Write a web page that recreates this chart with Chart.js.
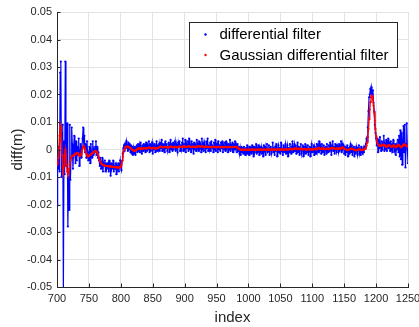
<!DOCTYPE html>
<html>
<head>
<meta charset="utf-8">
<script src="https://cdn.jsdelivr.net/npm/chart.js@4/dist/chart.umd.min.js"></script>
<style>
  html, body { margin: 0; padding: 0; background: #ffffff; }
  #wrap { width: 419px; height: 327px; position: relative; }
</style>
</head>
<body>
<div id="wrap"><canvas id="c" width="419" height="327"></canvas></div>
<script>
// x axis: sample index, first sample 700, one value per index up to 1250
const firstIndex = 700;
const seriesNames = ['differential filter', 'Gaussian differential filter'];
const xTickValues = [700, 750, 800, 850, 900, 950, 1000, 1050, 1100, 1150, 1200, 1250];
const yTickValues = [-0.05, -0.04, -0.03, -0.02, -0.01, 0, 0.01, 0.02, 0.03, 0.04, 0.05];

// values, in millimetres (axis shows metres)
const diffFilterMm = [
  /*700*/ -20.5, -3, -7, 1, -8, 28, 32, -10, 6, 9, -52, 3, -9, 32, -6, 4, 9.5, -28, -10, -22,
  /*720*/ 9, -11, -3, 8, 2, -7, 0, 5, -2, -5, 3, -4, 1, -2, 4, -6, -1, 2, -3, 1,
  /*740*/ 4, 8, 1, 5, -1, 2, -3, 3, -2, -4, -1, 1, -5, 2, -1, -3, 3, -2, 0, -1,
  /*760*/ 1, 3, -2, 1, -3, -1, -4, -6, -3, -7, -5, -3, -8, -5, -6, -4, -8, -5, -7, -6,
  /*780*/ -5, -8, -4, -6, -9.5, -5, -7, -6, -4, -8, -6, -7, -5, -9, -6, -7, -5, -8, -6, -4,
  /*800*/ -6.5, -7.5, -4, -1.5, 0.5, 1.5, -0.5, 2, 0.5, 3, 1.5, -0.5, 2.5, 0, 2, -1, 1.5, -1.5, 1, -2,
  /*820*/ 0.5, -1.5, 1, -2, 0.5, 1.5, -1, 2, -0.5, 1.5, -1, 2.5, 0, -1.5, 1.5, -0.5, 2, 0, 1.5, -1,
  /*840*/ 2.5, -0.5, 1.5, 0, 3, -1, 2, -0.5, 1, 2.5, -1.5, 1.5, 0, 2, -1, 1, 3, -0.5, 1.5, 0,
  /*860*/ 2, -0.5, 2.5, 0.5, 3.5, -0.5, 2, 0, 1.5, -1, 3, 0.5, 2, -0.5, 1, 2.5, -1, 1.5, 3.5, 0,
  /*880*/ 2, -0.5, 2.5, 0, 1.5, 3, -0.5, 2, 0.5, -1, 2.5, 1, 3, -0.5, 1.5, 0, 2.5, 4, -0.5, 2,
  /*900*/ 0.5, 3.5, -1, 2, 0.5, 3, -0.5, 4, 0, 1.5, -1, 3, 0.5, 2, -1.5, 2.5, 0, 1.5, -0.5, 3.5,
  /*920*/ 0.5, 2, -0.5, 3, 0.5, 1.5, -1, 4, 0, 2, -0.5, 2.5, 1, -1, 3, 0.5, 4, -0.5, 1.5, 0,
  /*940*/ 2.5, -0.5, 3, 0.5, 1.5, -1, 2.5, 0, 3.5, -0.5, 1, 2, -1, 3, 0, 1.5, -0.5, 2.5, 0.5, 3,
  /*960*/ -1, 1.5, 0, 2.5, -0.5, 3, 0.5, 1.5, -1, 2, 0, 3.5, -0.5, 1.5, 0.5, 2.5, -1, 2, 0, 3,
  /*980*/ 0.5, 1.5, -1, 2, -0.5, 1, -1.5, 0.5, -2, 1, -1, 0.5, -1.5, 1, -0.5, -2, 0.5, -1, 1.5, -1.5,
  /*1000*/ 0, -2, 1, -1, 0.5, -1.5, 1.5, -0.5, -2.5, 1, -1, 0, 2, -1.5, 0.5, -1, 1.5, -2, 0.5, -0.5,
  /*1020*/ 1, -1.5, 0.5, -2.5, 1.5, -0.5, 1, -2, 0, 2, -1, -0.5, 1.5, -2, 0.5, 1, -1.5, 0, 2.5, -1,
  /*1040*/ 0.5, -2, 1, -0.5, 2, -2.5, 0, 1.5, -1, 0.5, -1.5, 2.5, -0.5, 0, -2, 1.5, -1, 0.5, 2, -1.5,
  /*1060*/ 0, 1.5, -2.5, 0.5, -1, 2, 0, -1.5, 1, 3, -1, 0.5, 2, -0.5, 1.5, -1.5, 0, 2.5, -1, 1,
  /*1080*/ -2, 0.5, 2, -1.5, 0, 1.5, -2.5, 1, -0.5, 2, -1.5, 0.5, -1, 1.5, -2, 0, 1, -2.5, 0.5, 2,
  /*1100*/ -1, -0.5, 1.5, -2, 1, 0, -1.5, 2, -0.5, 1.5, -1, 3, 0, 1, -1.5, 2, 0.5, -1, 1.5, -2,
  /*1120*/ 0.5, 1, -1.5, 2, 0, -1, 1.5, -0.5, 2.5, 0, -2, 1.5, 3, -0.5, 1, -1.5, 2, 0, -1, 1.5,
  /*1140*/ 0.5, -1, 2, -0.5, 1, 3, -1, 2, 0.5, 1.5, -1.5, 1, -2, 0.5, -1, 1.5, -2.5, 0.5, -1.5, 1,
  /*1160*/ 2, -1, 1.5, -2, 0.5, 1, -2.5, 0, -1.5, 1, -0.5, -2, 0.5, 1.5, -1.5, 0, -2, 1, -1, -1.5,
  /*1180*/ 0.5, -1, 1, 0.5, 2, 4, 3, 8, 14, 19, 20, 22, 20.5, 22.5, 20, 21.5, 17, 14, 9, 6,
  /*1200*/ 4, 1.5, 4, -1, 3.5, 0.5, 4.5, 1, -0.5, 3, 0, 2.5, 5, -0.5, 2, 0, 3.5, -0.5, 1.5, 4,
  /*1220*/ 0.5, 2.5, -0.5, 3, 0, 1.5, -1, 3.5, 1, -0.5, 2, -2, 1.5, 0, 3.5, -1, 5, -2.5, 7, -3.5,
  /*1240*/ 6, -5.5, 3, 8.5, -1, 9, -6.5, 2, 9.5, 0, -5
];

const gaussDiffFilterMm = [
  /*700*/ -5.6, -5, -3, 0.5, 5, 8.8, 7.5, 3, -2, -6.5, -8.5, -6, -2, 0, -2, -5.5, -8, -9, -8.5, -7,
  /*720*/ -5.5, -4, -3, -2.5, -2.3, -2.2, -2.2, -2, -1.8, -1.6, -1.5, -1.3, -1.2, -1.4, -1.8, -2.2, -2.4, -2.2, -1.5, -0.6,
  /*740*/ 0.3, 1, 1.2, 0.8, 0, -0.8, -1.5, -2, -2.3, -2.5, -2.4, -2.2, -2, -1.8, -1.6, -1.4, -1.2, -1, -0.8, -0.7,
  /*760*/ -0.6, -0.6, -0.8, -1.2, -1.8, -2.6, -3.4, -4, -4.5, -4.9, -5.2, -5.4, -5.6, -5.7, -5.8, -5.9, -5.9, -6, -6, -6,
  /*780*/ -6, -6.1, -6.1, -6.1, -6.2, -6.2, -6.2, -6.3, -6.3, -6.3, -6.4, -6.4, -6.4, -6.5, -6.5, -6.5, -6.5, -6.6, -6.5, -6.4,
  /*800*/ -6.2, -5.5, -4.2, -2.6, -1.2, -0.2, 0.4, 0.8, 1, 1.1, 1.1, 1.1, 1, 0.9, 0.7, 0.5, 0.3, 0.1, -0.1, -0.3,
  /*820*/ -0.4, -0.5, -0.5, -0.4, -0.2, 0, 0.2, 0.3, 0.4, 0.4, 0.4, 0.3, 0.2, 0.2, 0.3, 0.4, 0.5, 0.5, 0.5, 0.4,
  /*840*/ 0.4, 0.4, 0.5, 0.6, 0.7, 0.7, 0.6, 0.5, 0.4, 0.4, 0.5, 0.6, 0.6, 0.5, 0.4, 0.3, 0.4, 0.5, 0.6, 0.7,
  /*860*/ 0.8, 0.9, 1, 1.1, 1, 0.9, 0.8, 0.8, 0.9, 1, 1, 0.9, 0.8, 0.7, 0.7, 0.8, 0.9, 1, 1.1, 1.1,
  /*880*/ 1, 0.9, 0.8, 0.8, 0.9, 1, 1, 0.9, 0.8, 0.8, 0.9, 1, 1.1, 1.1, 1, 0.9, 0.9, 1, 1.1, 1.2,
  /*900*/ 1.1, 1, 0.9, 0.9, 1, 1.1, 1.2, 1.2, 1.1, 1, 0.9, 0.9, 1, 1.1, 1.1, 1, 0.9, 0.8, 0.9, 1,
  /*920*/ 1.1, 1.2, 1.2, 1.1, 1, 1, 1.1, 1.2, 1.1, 1, 0.9, 0.9, 1, 1.1, 1.1, 1, 0.9, 0.9, 1, 1,
  /*940*/ 0.9, 0.8, 0.8, 0.9, 1, 1.1, 1.1, 1, 0.9, 0.8, 0.8, 0.9, 1, 1, 0.9, 0.8, 0.8, 0.9, 1, 1,
  /*960*/ 0.9, 0.8, 0.8, 0.9, 1, 1, 0.9, 0.8, 0.8, 0.9, 1, 1, 0.9, 0.8, 0.9, 1, 1, 0.9, 0.9, 1,
  /*980*/ 1, 0.9, 0.8, 0.7, 0.5, 0.3, 0.1, 0, -0.1, -0.1, 0, 0, -0.1, -0.2, -0.2, -0.1, 0, 0, -0.1, -0.1,
  /*1000*/ 0, 0, -0.1, -0.2, -0.1, 0, 0.1, 0, -0.1, -0.1, 0, 0, -0.1, -0.1, 0, 0.1, 0.1, 0, -0.1, 0,
  /*1020*/ 0, -0.1, -0.2, -0.1, 0, 0, -0.1, 0, 0.1, 0, -0.1, -0.1, 0, 0.1, 0, -0.1, -0.1, 0, 0, 0.1,
  /*1040*/ 0, -0.1, 0, 0, -0.1, -0.1, 0, 0.1, 0.1, 0, -0.1, 0, 0, 0.1, 0, -0.1, -0.1, 0, 0.1, 0.1,
  /*1060*/ 0, 0, -0.1, 0, 0.1, 0.2, 0.2, 0.1, 0, 0, 0.1, 0.2, 0.3, 0.4, 0.4, 0.3, 0.2, 0.1, 0.1, 0.2,
  /*1080*/ 0.3, 0.3, 0.2, 0.1, 0, 0, 0.1, 0.2, 0.2, 0.1, 0, -0.1, 0, 0.1, 0.2, 0.1, 0, 0, 0.1, 0.1,
  /*1100*/ 0, 0, 0.1, 0.2, 0.2, 0.1, 0, 0.1, 0.3, 0.5, 0.6, 0.5, 0.3, 0.2, 0.2, 0.3, 0.4, 0.3, 0.2, 0.1,
  /*1120*/ 0.1, 0.2, 0.3, 0.3, 0.2, 0.1, 0.1, 0.2, 0.3, 0.4, 0.5, 0.6, 0.6, 0.5, 0.4, 0.3, 0.2, 0.2, 0.3, 0.4,
  /*1140*/ 0.4, 0.3, 0.2, 0.2, 0.3, 0.5, 0.7, 0.8, 0.7, 0.5, 0.3, 0.2, 0.1, 0, -0.1, -0.2, -0.2, -0.1, 0, 0.1,
  /*1160*/ 0.2, 0.3, 0.3, 0.2, 0.1, 0, -0.1, -0.2, -0.3, -0.3, -0.2, -0.1, 0, 0.1, 0.1, 0, -0.1, -0.2, -0.2, -0.1,
  /*1180*/ 0, 0, 0.1, 0.3, 0.7, 1.3, 2.5, 4.5, 7.5, 11, 14.5, 17.2, 19, 19.6, 19.3, 18, 16, 13.5, 10.5, 7.5,
  /*1200*/ 5, 3.3, 2.4, 1.9, 1.6, 1.5, 1.4, 1.3, 1.3, 1.4, 1.6, 1.8, 1.8, 1.6, 1.3, 1.1, 1, 1.1, 1.3, 1.5,
  /*1220*/ 1.6, 1.5, 1.3, 1.1, 1, 1, 1.2, 1.4, 1.5, 1.3, 1, 0.8, 0.9, 1.2, 1.5, 1.7, 1.6, 1.3, 1, 0.8,
  /*1240*/ 0.9, 1.2, 1.5, 1.8, 1.9, 1.8, 1.6, 1.4, 1.3, 1.2, 1.1
];

const toPoints = (arr) => arr.map((v, i) => ({ x: firstIndex + i, y: v / 1000 }));

const AXIS_COLOR = '#262626';
const GRID_COLOR = '#e3e3e3';
const FONT = 'Liberation Sans, Arial, Helvetica, sans-serif';

// inward tick marks (MATLAB style)
const inwardTicks = {
  id: 'inwardTicks',
  afterDraw(chart) {
    const { ctx, chartArea: a, scales: { x, y } } = chart;
    const len = 3.5;
    ctx.save();
    ctx.strokeStyle = AXIS_COLOR;
    ctx.lineWidth = 1;
    ctx.beginPath();
    xTickValues.forEach(v => {
      const px = Math.round(x.getPixelForValue(v)) + 0.5;
      ctx.moveTo(px, a.bottom);
      ctx.lineTo(px, a.bottom - len);
    });
    yTickValues.forEach(v => {
      const py = Math.round(y.getPixelForValue(v)) + 0.5;
      ctx.moveTo(a.left, py);
      ctx.lineTo(a.left + len, py);
    });
    ctx.stroke();
    ctx.restore();
  }
};

// legend box inside the axes, upper right
const boxLegend = {
  id: 'boxLegend',
  afterDraw(chart) {
    const { ctx, chartArea: a } = chart;
    const w = 208, h = 45;
    const bx = a.right - 10.5 - w, by = a.top + 10.5;
    ctx.save();
    ctx.fillStyle = '#ffffff';
    ctx.fillRect(bx, by, w, h);
    ctx.strokeStyle = AXIS_COLOR;
    ctx.lineWidth = 1;
    ctx.strokeRect(bx, by, w, h);
    ctx.font = '15px ' + FONT;
    ctx.textBaseline = 'middle';
    ctx.textAlign = 'left';
    chart.data.datasets.forEach((ds, i) => {
      const cy = by + 12 + i * 20.5;
      ctx.fillStyle = ds.borderColor;
      ctx.beginPath();
      ctx.arc(bx + 16, cy, 1.2, 0, Math.PI * 2);
      ctx.fill();
      ctx.fillStyle = '#000000';
      ctx.fillText(ds.label, bx + 30, cy + 0.5);
    });
    ctx.restore();
  }
};

new Chart(document.getElementById('c'), {
  type: 'line',
  data: {
    datasets: [
      {
        label: seriesNames[0],
        data: toPoints(diffFilterMm),
        borderColor: '#0000ff',
        backgroundColor: '#0000ff',
        borderWidth: 1.2,
        pointRadius: 1.1,
        pointBorderWidth: 0,
        pointBackgroundColor: '#0000ff',
        tension: 0,
        order: 2
      },
      {
        label: seriesNames[1],
        data: toPoints(gaussDiffFilterMm),
        borderColor: '#ff0000',
        backgroundColor: '#ff0000',
        borderWidth: 1.4,
        pointRadius: 1.1,
        pointBorderWidth: 0,
        pointBackgroundColor: '#ff0000',
        tension: 0,
        order: 1
      }
    ]
  },
  options: {
    responsive: false,
    animation: false,
    events: [],
    layout: { padding: { top: 12, right: 11, left: 0, bottom: 0 } },
    plugins: { legend: { display: false }, tooltip: { enabled: false } },
    scales: {
      x: {
        type: 'linear',
        min: 700, max: 1250,
        afterBuildTicks: (s) => { s.ticks = xTickValues.map(v => ({ value: v })); },
        afterFit: (s) => { s.height = 40; s.paddingLeft = 0; s.paddingRight = 0; },
        grid: { color: GRID_COLOR, drawTicks: false, lineWidth: 1 },
        border: { display: true, color: AXIS_COLOR, width: 1 },
        ticks: {
          padding: 5, maxRotation: 0, autoSkip: false,
          color: AXIS_COLOR, font: { family: FONT, size: 11 },
          callback: (v) => String(v)
        },
        title: {
          display: true, text: 'index', color: AXIS_COLOR,
          font: { family: FONT, size: 15 }, padding: { top: 0, bottom: 0 }
        }
      },
      y: {
        type: 'linear',
        min: -0.05, max: 0.05,
        afterBuildTicks: (s) => { s.ticks = yTickValues.map(v => ({ value: v })); },
        afterFit: (s) => { s.width = 57; s.paddingTop = 0; s.paddingBottom = 0; },
        grid: { color: GRID_COLOR, drawTicks: false, lineWidth: 1 },
        border: { display: true, color: AXIS_COLOR, width: 1 },
        ticks: {
          padding: 5, autoSkip: false,
          color: AXIS_COLOR, font: { family: FONT, size: 11 },
          callback: (v) => (Math.abs(v) < 1e-9 ? '0' : Number(v).toFixed(2))
        },
        title: {
          display: true, text: 'diff(m)', color: AXIS_COLOR,
          font: { family: FONT, size: 15 }, padding: { top: 9, bottom: 0 }
        }
      }
    }
  },
  plugins: [inwardTicks, boxLegend]
});
</script>
</body>
</html>
